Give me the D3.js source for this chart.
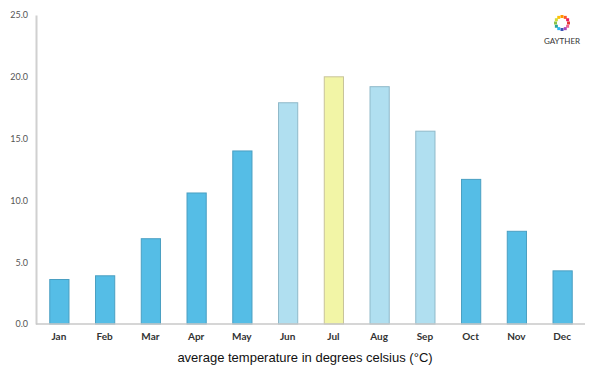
<!DOCTYPE html>
<html><head><meta charset="utf-8">
<script src="https://cdn.jsdelivr.net/npm/d3@7"></script>
<style>body{margin:0;background:#fff}svg{display:block}</style>
</head><body><svg id="c" width="600" height="375"></svg>
<script>
const months = ["Jan","Feb","Mar","Apr","May","Jun","Jul","Aug","Sep","Oct","Nov","Dec"];
const temps = [3.6,3.9,6.9,10.6,14.0,17.9,20.0,19.2,15.6,11.7,7.5,4.3];
const seasons = ["cold","cold","cold","cold","cold","warm","hot","warm","warm","cold","cold","cold"];
const yTicks = [0,5,10,15,20,25];
const axisTitle = "average temperature in degrees celsius (°C)";
const logoColors = ["#e53935","#f06292","#ab47bc","#3f51b5","#29b6f6","#26a69a","#8bc34a","#cddc39","#ffc107","#ff9800","#ff5722","#e91e63"];

const fill = {cold:"#55bde6", warm:"#b0dff0", hot:"#f2f5a6"};
const stroke = {cold:"#4a9fc2", warm:"#8fb9c9", hot:"#c8c49a"};
const font = "'Century Gothic','Lato','DejaVu Sans',sans-serif";

const svg = d3.select("#c");
const x0 = 36, x1 = 585, yTop = 15, yBot = 324;
const x = d3.scaleBand().domain(months).range([x0, x1]).paddingInner(0.58).paddingOuter(0.29);
const y = d3.scaleLinear().domain([0,25]).range([yBot, yTop]);

// bars
svg.append("g").selectAll("rect").data(months).join("rect")
  .attr("x", d => x(d) + 0.5)
  .attr("y", (d,i) => y(temps[i]))
  .attr("width", x.bandwidth())
  .attr("height", (d,i) => yBot - y(temps[i]))
  .attr("fill", (d,i) => fill[seasons[i]])
  .attr("stroke", (d,i) => stroke[seasons[i]])
  .attr("stroke-width", 1);

// y axis
const ya = svg.append("g").attr("transform", `translate(${x0},0)`)
  .call(d3.axisLeft(y).tickValues(yTicks).tickFormat(d3.format(".1f")).tickSize(0).tickPadding(8));
ya.select(".domain").attr("stroke", "#d0d0d0").attr("stroke-width", 2);
ya.selectAll("text").attr("font-family", font).attr("font-size", 9).attr("fill", "#555");

// x axis
const xa = svg.append("g").attr("transform", `translate(0,${yBot})`)
  .call(d3.axisBottom(x).tickSize(0).tickPadding(9));
xa.select(".domain").attr("stroke", "#c8c8c8").attr("stroke-width", 1.5).attr("d", `M${x0},0H${x1}`);
xa.selectAll("text").attr("font-family", font).attr("font-size", 10).attr("font-weight", "bold").attr("fill", "#333");

// axis title
svg.append("text").attr("x", 305).attr("y", 362)
  .attr("text-anchor", "middle").attr("font-family", "'Liberation Sans',Arial,sans-serif")
  .attr("font-size", 13).attr("fill", "#111").text(axisTitle);

// logo
const lg = svg.append("g").attr("transform", "translate(562,23)");
const ang = d3.range(12).map(i => i * Math.PI * 2 / 12);
lg.selectAll("rect").data(ang).join("rect")
  .attr("x", a => Math.cos(a) * 6.5 - 1.5).attr("y", a => Math.sin(a) * 6.5 - 1.5)
  .attr("width", 3).attr("height", 3)
  .attr("fill", (a,i) => logoColors[i]);
svg.append("text").attr("x", 562).attr("y", 44).attr("text-anchor", "middle")
  .attr("font-family", font).attr("font-size", 8).attr("fill", "#333").text("GAYTHER");
</script></body></html>
